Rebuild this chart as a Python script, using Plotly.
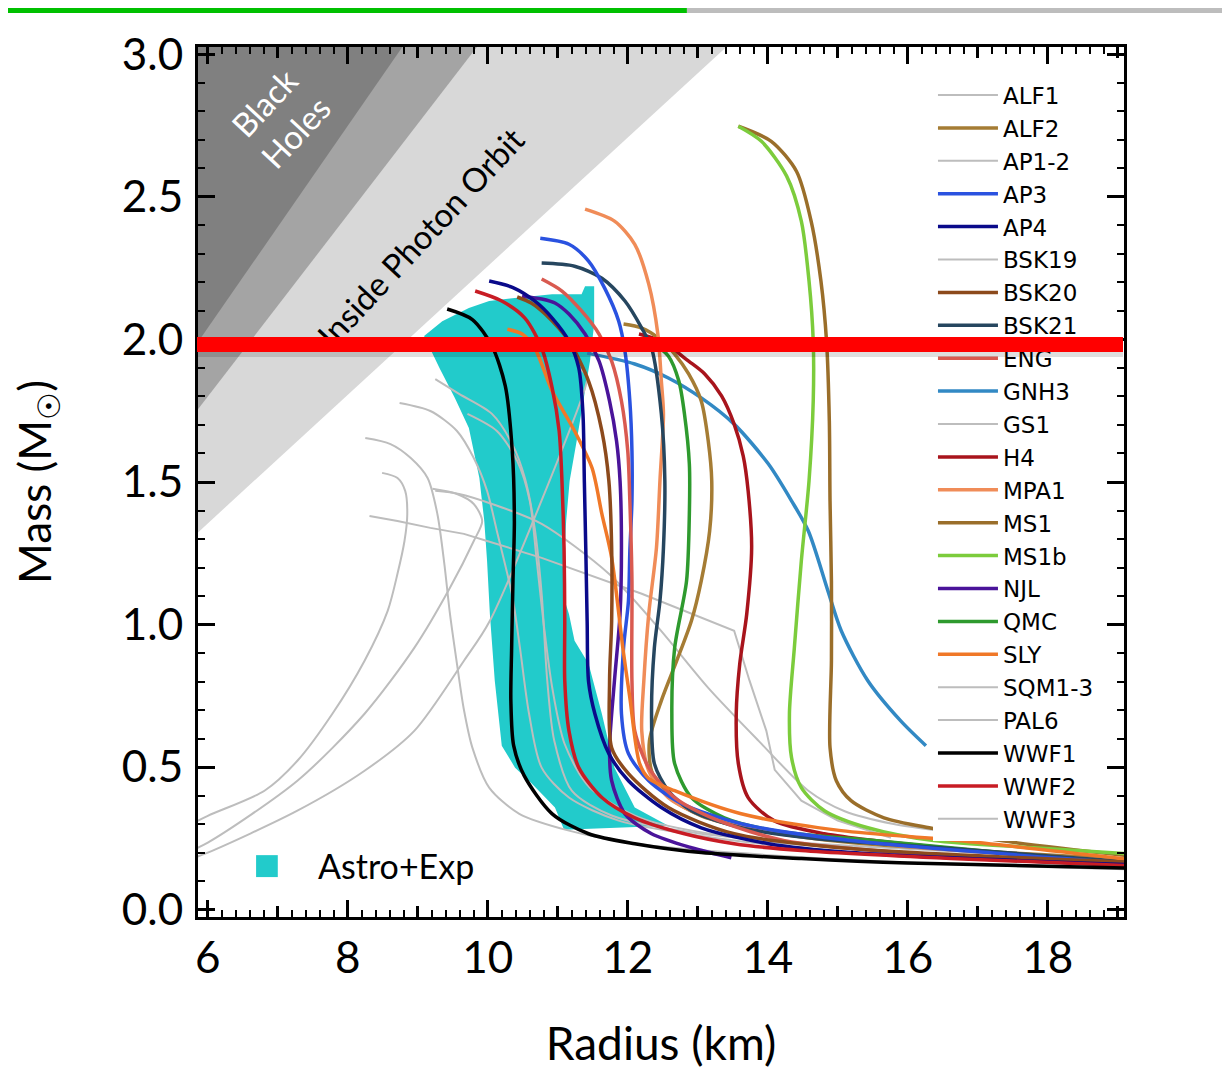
import plotly.graph_objects as go

# ---------------- shaded regions (boundary vertices) -------------
PHOTON_R = [5.5, 14.18, 5.5]
PHOTON_M = [1.242, 3.2, 3.2]
BUCH_R = [5.5, 10.39, 5.5]
BUCH_M = [1.64, 3.2, 3.2]
BH_R = [5.5, 9.27, 5.5]
BH_M = [1.863, 3.2, 3.2]

# ---------------- Astro+Exp band outline ----------------
ASTRO_R = [11.52, 11.52, 11.46, 11.37, 11.27, 11.17, 11.12, 11.09, 11.10, 11.16, 11.24, 11.44,
           11.63, 11.81, 12.10, 12.58, 11.09, 10.96, 10.59, 10.39, 10.20, 10.10, 10.03, 9.99,
           9.95, 9.88, 9.73, 9.53, 9.31, 9.09, 9.35, 9.73, 10.02, 10.35, 10.92, 11.34, 11.39, 11.52]
ASTRO_M = [2.152, 2.054, 1.924, 1.784, 1.644, 1.504, 1.363, 1.223, 1.083, 1.037, 0.943, 0.862,
           0.687, 0.498, 0.358, 0.294, 0.280, 0.358, 0.452, 0.498, 0.575, 0.803, 1.037, 1.223,
           1.363, 1.514, 1.689, 1.795, 1.900, 2.012, 2.064, 2.110, 2.135, 2.145, 2.159, 2.159, 2.187, 2.187]

# ---------------- grey EOS curves ----------------
ALF1_R = [9.25, 9.59, 10.06, 10.35, 10.53, 10.67, 10.77, 10.85, 10.95, 11.2, 11.77, 13.05, 15.19, 19.3]
ALF1_M = [1.861, 1.809, 1.739, 1.633, 1.514, 1.339, 1.108, 0.803, 0.592, 0.417, 0.33, 0.266, 0.224, 0.175]

AP12_R = [8.25, 8.61, 8.90, 9.14, 9.28, 9.38, 9.46, 9.56, 9.66, 9.78, 10.02, 10.45, 11.16, 12.10, 13.5, 16.0, 19.3]
AP12_M = [1.654, 1.633, 1.584, 1.514, 1.388, 1.212, 1.037, 0.862, 0.70, 0.568, 0.428, 0.336, 0.277, 0.231, 0.20, 0.165, 0.14]

BSK19_R = [8.74, 9.18, 9.56, 9.80, 9.99, 10.13, 10.35, 10.46, 10.59, 10.77, 11.16, 11.87, 13.0, 15.0, 19.3]
BSK19_M = [1.777, 1.749, 1.679, 1.584, 1.469, 1.328, 1.10, 0.918, 0.687, 0.498, 0.393, 0.312, 0.26, 0.205, 0.15]

GS1_R = [9.25, 9.59, 10.06, 10.77, 11.73, 12.44, 13.15, 13.87, 14.58, 15.1, 15.8, 16.5]
GS1_M = [1.469, 1.458, 1.423, 1.353, 1.178, 0.988, 0.778, 0.592, 0.417, 0.345, 0.30, 0.275]

SQM1_R = [8.49, 8.71, 8.82, 8.85, 8.81, 8.71, 8.57, 8.24, 7.78, 7.28, 6.81, 6.0, 5.6]
SQM1_M = [1.532, 1.514, 1.469, 1.388, 1.293, 1.178, 1.048, 0.873, 0.687, 0.522, 0.417, 0.329, 0.28]
SQM2_R = [9.21, 9.56, 9.80, 9.92, 9.80, 9.46, 8.95, 8.24, 7.28, 6.0, 5.6]
SQM2_M = [1.476, 1.458, 1.423, 1.363, 1.293, 1.129, 0.918, 0.687, 0.452, 0.235, 0.19]
SQM3_R = [11.30, 11.42, 11.39, 10.03, 9.66, 8.95, 8.24, 7.28, 6.0, 5.6]
SQM3_M = [1.90, 1.87, 1.83, 1.013, 0.873, 0.627, 0.487, 0.347, 0.200, 0.165]

PAL6_R = [8.31, 8.71, 9.18, 9.66, 9.99, 10.77, 12.20, 13.52, 13.74, 13.98, 14.10, 14.48, 15.0, 15.76]
PAL6_M = [1.381, 1.363, 1.339, 1.318, 1.293, 1.234, 1.108, 0.978, 0.803, 0.627, 0.49, 0.382, 0.312, 0.252]

WWF3_R = [9.71, 10.13, 10.42, 10.60, 10.70, 10.80, 10.92, 11.10, 11.45, 12.2, 13.6, 16.0, 19.3]
WWF3_M = [1.739, 1.679, 1.574, 1.434, 1.223, 1.00, 0.78, 0.58, 0.43, 0.32, 0.25, 0.20, 0.158]

# ---------------- coloured EOS curves ----------------
ALF2_R = [11.94, 12.20, 12.44, 12.67, 12.87, 13.05, 13.15, 13.20, 13.17, 13.05, 12.91, 12.70, 12.48,
          12.31, 12.34, 12.56, 13.05, 13.91, 15.19, 19.3]
ALF2_M = [2.054, 2.040, 2.005, 1.949, 1.879, 1.784, 1.644, 1.504, 1.328, 1.153, 1.013, 0.873, 0.733,
          0.592, 0.487, 0.400, 0.329, 0.277, 0.235, 0.175]

AP3_R = [10.75, 11.16, 11.44, 11.67, 11.87, 11.96, 12.03, 12.06, 12.06, 12.03, 12.01, 11.94, 11.91,
         12.01, 12.30, 12.77, 13.62, 15.19, 19.3]
AP3_M = [2.355, 2.334, 2.275, 2.180, 2.065, 1.959, 1.784, 1.609, 1.434, 1.258, 1.083, 0.918, 0.687,
         0.547, 0.452, 0.372, 0.301, 0.242, 0.160]

AP4_R = [10.02, 10.36, 10.67, 10.92, 11.16, 11.30, 11.36, 11.38, 11.40, 11.42, 11.44, 11.53, 11.73,
         12.01, 12.48, 13.05, 14.01, 15.19, 19.3]
AP4_M = [2.205, 2.182, 2.135, 2.075, 1.994, 1.90, 1.74, 1.50, 1.27, 1.01, 0.80, 0.687, 0.547,
         0.452, 0.358, 0.287, 0.231, 0.200, 0.156]

BSK20_R = [10.42, 10.62, 10.82, 11.16, 11.44, 11.63, 11.73, 11.77, 11.77, 11.74, 11.77, 12.01, 12.58,
           13.52, 15.19, 19.3]
BSK20_M = [2.149, 2.128, 2.089, 1.994, 1.854, 1.679, 1.504, 1.269, 1.013, 0.803, 0.568, 0.477, 0.358,
           0.266, 0.214, 0.165]

BSK21_R = [10.77, 11.24, 11.63, 11.96, 12.20, 12.34, 12.48, 12.53, 12.51, 12.46, 12.38, 12.34, 12.38,
           12.58, 12.91, 13.62, 14.58, 16.62, 19.3]
BSK21_M = [2.268, 2.257, 2.215, 2.135, 2.040, 1.970, 1.739, 1.504, 1.269, 1.083, 0.918, 0.687, 0.512,
           0.417, 0.347, 0.287, 0.252, 0.214, 0.165]

ENG_R = [10.77, 11.06, 11.34, 11.59, 11.77, 11.91, 12.00, 12.03, 12.06, 12.06, 12.10, 12.30, 12.67,
         13.30, 14.24, 15.90, 19.3]
ENG_M = [2.212, 2.170, 2.100, 2.019, 1.924, 1.784, 1.609, 1.434, 1.153, 0.803, 0.627, 0.498, 0.393,
         0.312, 0.242, 0.200, 0.158]

GNH3_R = [11.42, 12.10, 12.58, 13.05, 13.52, 14.01, 14.34, 14.58, 14.86, 15.05, 15.43, 15.90, 16.26]
GNH3_M = [1.952, 1.914, 1.865, 1.795, 1.703, 1.563, 1.434, 1.328, 1.118, 0.978, 0.803, 0.662, 0.575]

H4_R = [12.16, 12.48, 12.87, 13.10, 13.34, 13.52, 13.65, 13.72, 13.77, 13.70, 13.60, 13.55, 13.58,
        13.72, 14.09, 14.81, 16.62, 19.3]
H4_M = [2.019, 1.994, 1.924, 1.879, 1.802, 1.703, 1.591, 1.469, 1.269, 1.037, 0.862, 0.687, 0.512,
        0.393, 0.312, 0.266, 0.214, 0.163]

MPA1_R = [11.39, 11.81, 12.10, 12.30, 12.43, 12.48, 12.51, 12.46, 12.41, 12.30, 12.23, 12.20, 12.30,
          12.58, 13.15, 14.09, 15.90, 19.3]
MPA1_M = [2.457, 2.415, 2.334, 2.194, 2.019, 1.854, 1.739, 1.504, 1.269, 1.037, 0.803, 0.627, 0.487,
          0.393, 0.322, 0.277, 0.224, 0.168]

MS1_R = [13.58, 14.05, 14.41, 14.62, 14.76, 14.84, 14.88, 14.89, 14.91, 14.91, 14.89, 14.98, 15.19,
         15.66, 16.37, 17.33, 19.3]
MS1_M = [2.748, 2.695, 2.590, 2.415, 2.205, 1.994, 1.714, 1.434, 1.153, 0.873, 0.568, 0.452, 0.382,
         0.322, 0.284, 0.242, 0.185]

MS1B_R = [13.58, 13.91, 14.27, 14.48, 14.59, 14.65, 14.65, 14.59, 14.48, 14.38, 14.31, 14.34, 14.48,
          14.81, 15.43, 16.37, 17.80, 19.3]
MS1B_M = [2.748, 2.695, 2.573, 2.415, 2.205, 1.994, 1.784, 1.504, 1.223, 0.918, 0.687, 0.533, 0.428,
          0.347, 0.287, 0.242, 0.217, 0.193]

NJL_R = [10.49, 10.77, 10.96, 11.16, 11.39, 11.59, 11.74, 11.84, 11.89, 11.91, 11.89, 11.81, 11.74,
         11.77, 11.96, 12.34, 12.91, 13.48]
NJL_M = [2.152, 2.142, 2.128, 2.089, 2.019, 1.924, 1.784, 1.644, 1.504, 1.269, 1.037, 0.803, 0.568,
         0.452, 0.336, 0.266, 0.217, 0.182]

QMC_R = [12.30, 12.58, 12.73, 12.81, 12.88, 12.88, 12.84, 12.67, 12.63, 12.67, 12.91, 13.38, 14.09,
         15.52, 17.33, 19.3]
QMC_M = [2.0, 1.942, 1.854, 1.739, 1.563, 1.388, 1.153, 0.918, 0.687, 0.512, 0.393, 0.322, 0.277,
         0.242, 0.200, 0.155]

SLY_R = [10.28, 10.49, 10.67, 10.92, 11.24, 11.49, 11.63, 11.77, 11.93, 12.03, 12.17, 12.30, 12.67,
         13.62, 15.05, 16.72, 19.3]
SLY_M = [2.036, 2.019, 1.970, 1.819, 1.679, 1.549, 1.388, 1.234, 0.918, 0.743, 0.512, 0.46, 0.417,
         0.336, 0.277, 0.242, 0.172]

WWF1_R = [9.42, 9.78, 10.06, 10.25, 10.35, 10.38, 10.36, 10.34, 10.33, 10.37, 10.52, 10.92, 11.44,
          12.10, 13.05, 14.48, 16.0, 19.3]
WWF1_M = [2.107, 2.07, 1.977, 1.837, 1.609, 1.363, 1.153, 0.908, 0.733, 0.575, 0.47, 0.336, 0.266,
          0.231, 0.200, 0.179, 0.163, 0.145]

WWF2_R = [9.82, 10.20, 10.53, 10.77, 10.92, 11.02, 11.06, 11.09, 11.10, 11.10, 11.16, 11.30, 11.63,
          12.10, 12.81, 13.52, 14.48, 16.62, 19.3]
WWF2_M = [2.170, 2.135, 2.075, 1.970, 1.830, 1.679, 1.504, 1.269, 1.013, 0.803, 0.627, 0.498, 0.393,
          0.322, 0.266, 0.231, 0.207, 0.179, 0.153]

LEGEND_ORDER = ["ALF1", "ALF2", "AP1-2", "AP3", "AP4", "BSK19", "BSK20", "BSK21", "ENG", "GNH3",
                "GS1", "H4", "MPA1", "MS1", "MS1b", "NJL", "QMC", "SLY", "SQM1-3", "PAL6",
                "WWF1", "WWF2", "WWF3"]

X_TICKS = [6, 8, 10, 12, 14, 16, 18]
X_MID_TICKS = [7, 9, 11, 13, 15, 17, 19]
Y_TICKS = [0.0, 0.5, 1.0, 1.5, 2.0, 2.5, 3.0]

GREY = "#bdbdbd"
FONT = "Lato"
LEG_FONT = "DejaVu Sans"

grey_curves = [
    ("ALF1", ALF1_R, ALF1_M, "spline"),
    ("AP1-2", AP12_R, AP12_M, "spline"),
    ("BSK19", BSK19_R, BSK19_M, "spline"),
    ("GS1", GS1_R, GS1_M, "spline"),
    ("SQM1-3", SQM1_R, SQM1_M, "spline"),
    ("SQM1-3", SQM2_R, SQM2_M, "spline"),
    ("SQM1-3", SQM3_R, SQM3_M, "spline"),
    ("PAL6", PAL6_R, PAL6_M, "linear"),
    ("WWF3", WWF3_R, WWF3_M, "spline"),
]

colour_curves = [
    ("GNH3", GNH3_R, GNH3_M, "#3289c4"),
    ("MS1", MS1_R, MS1_M, "#9a6e2a"),
    ("MS1b", MS1B_R, MS1B_M, "#7ccc3c"),
    ("H4", H4_R, H4_M, "#a8141c"),
    ("ALF2", ALF2_R, ALF2_M, "#a57c34"),
    ("QMC", QMC_R, QMC_M, "#2e9a2e"),
    ("MPA1", MPA1_R, MPA1_M, "#f08c58"),
    ("BSK21", BSK21_R, BSK21_M, "#26465f"),
    ("AP3", AP3_R, AP3_M, "#2a52e0"),
    ("ENG", ENG_R, ENG_M, "#d95a50"),
    ("NJL", NJL_R, NJL_M, "#4a149a"),
    ("SLY", SLY_R, SLY_M, "#f07828"),
    ("BSK20", BSK20_R, BSK20_M, "#8c4a1c"),
    ("AP4", AP4_R, AP4_M, "#0a0a8a"),
    ("WWF2", WWF2_R, WWF2_M, "#c81c24"),
    ("WWF1", WWF1_R, WWF1_M, "#000000"),
]

fig = go.Figure()

for rr, mm, col in [(PHOTON_R, PHOTON_M, "#d8d8d8"), (BUCH_R, BUCH_M, "#a4a4a4"), (BH_R, BH_M, "#808080")]:
    fig.add_trace(go.Scatter(x=rr, y=mm, fill="toself", fillcolor=col, mode="lines",
                             line=dict(width=0, color=col), showlegend=False, hoverinfo="skip"))

fig.add_trace(go.Scatter(x=ASTRO_R, y=ASTRO_M, fill="toself", fillcolor="#22cbcb", mode="lines",
                         line=dict(width=0, color="#22cbcb"), showlegend=False, hoverinfo="skip"))

shown = set()
for name, rr, mm, shape in grey_curves:
    fig.add_trace(go.Scatter(x=rr, y=mm, mode="lines", name=name, legendgroup=name,
                             showlegend=name not in shown, legendrank=LEGEND_ORDER.index(name) + 1,
                             line=dict(color=GREY, width=2, shape=shape, smoothing=0.8)))
    shown.add(name)

for name, rr, mm, col in colour_curves:
    fig.add_trace(go.Scatter(x=rr, y=mm, mode="lines", name=name,
                             legendrank=LEGEND_ORDER.index(name) + 1,
                             line=dict(color=col, width=3.5, shape="spline", smoothing=0.8)))

# medium ticks on an overlay axis
fig.add_trace(go.Scatter(x=[None], y=[None], xaxis="x2", showlegend=False, hoverinfo="skip"))

# the page body has an 8px margin: the figure is sized so the plot frame lands where the reference has it
fig.update_layout(
    width=1222, height=1066,
    margin=dict(l=190, r=106, t=39, b=157),
    paper_bgcolor="white", plot_bgcolor="white",
    font=dict(family=FONT, color="black"),
    xaxis=dict(range=[5.86, 19.09], tickvals=X_TICKS, ticks="inside", ticklen=17, tickwidth=2.5,
               tickcolor="black", showline=True, linecolor="black", linewidth=3, mirror="ticks",
               showgrid=False, zeroline=False, tickfont=dict(size=44, family=FONT),
               ticklabelstandoff=0,
               minor=dict(ticks="inside", dtick=0.2, tick0=6, ticklen=7, tickwidth=2,
                          tickcolor="black", showgrid=False),
               title=dict(text="Radius (km)", font=dict(size=46, family=FONT), standoff=48)),
    xaxis2=dict(range=[5.86, 19.09], overlaying="x", anchor="y", side="bottom", tickvals=X_MID_TICKS,
                ticks="inside", ticklen=11, tickwidth=2.5, tickcolor="black", showticklabels=False,
                mirror="ticks", showline=False, showgrid=False, zeroline=False),
    yaxis=dict(range=[-0.026, 3.026], tickvals=Y_TICKS, tickformat=".1f", ticks="inside", ticklen=17,
               tickwidth=2.5, tickcolor="black", showline=True, linecolor="black", linewidth=3,
               mirror="ticks", showgrid=False, zeroline=False,
               tickfont=dict(size=44, family=FONT),
               ticklabelstandoff=3,
               minor=dict(ticks="inside", dtick=0.1, tick0=0, ticklen=7, tickwidth=2,
                          tickcolor="black", showgrid=False),
               title=dict(text="Mass (M<sub>☉</sub>)", font=dict(size=44, family=FONT), standoff=62)),
    legend=dict(x=0.7937, y=0.9695, xanchor="left", yanchor="top", bgcolor="white",
                borderwidth=0, font=dict(size=23, family=LEG_FONT), itemwidth=60,
                traceorder="normal"),
    showlegend=True,
)

# Astro+Exp key
fig.add_shape(type="rect", xref="x", yref="y", x0=6.69, x1=7.0, y0=0.114, y1=0.191,
              fillcolor="#22cbcb", line=dict(width=0), layer="above")
fig.add_annotation(x=7.54, y=0.153, xref="x", yref="y", text="Astro+Exp", showarrow=False,
                   xanchor="left", yanchor="middle", font=dict(size=34, family=FONT, color="black"))

# region labels
fig.add_annotation(x=7.02, y=2.78, xref="x", yref="y", text="Black<br>Holes", showarrow=False,
                   textangle=-47, font=dict(size=33, family=FONT, color="white"))
fig.add_annotation(x=9.03, y=2.36, xref="x", yref="y", text="Inside Photon Orbit", showarrow=False,
                   textangle=-47, font=dict(size=33, family=FONT, color="black"))

# red 2 M_sun bar with soft shadow (annotation boxes, so they sit over the legend like the reference)
fig.add_annotation(x=12.457, y=1.948, xref="x", yref="y", text="\u00a0", showarrow=False,
                   width=926, height=5, bgcolor="rgba(0,0,0,0.13)", borderpad=0, borderwidth=0,
                   font=dict(size=4, color="rgba(0,0,0,0)"))
fig.add_annotation(x=12.457, y=1.982, xref="x", yref="y", text="\u00a0", showarrow=False,
                   width=926, height=15, bgcolor="#ff0000", borderpad=0, borderwidth=0,
                   font=dict(size=12, color="#ff0000"))

# top slide strips
fig.add_shape(type="rect", xref="paper", yref="paper", x0=-0.2052, x1=0.528, y0=1.0391, y1=1.0448,
              fillcolor="#00c000", line=dict(width=0))
fig.add_shape(type="rect", xref="paper", yref="paper", x0=0.528, x1=1.1145, y0=1.0391, y1=1.0448,
              fillcolor="#bdbdbd", line=dict(width=0))

fig.write_html("out.html")
